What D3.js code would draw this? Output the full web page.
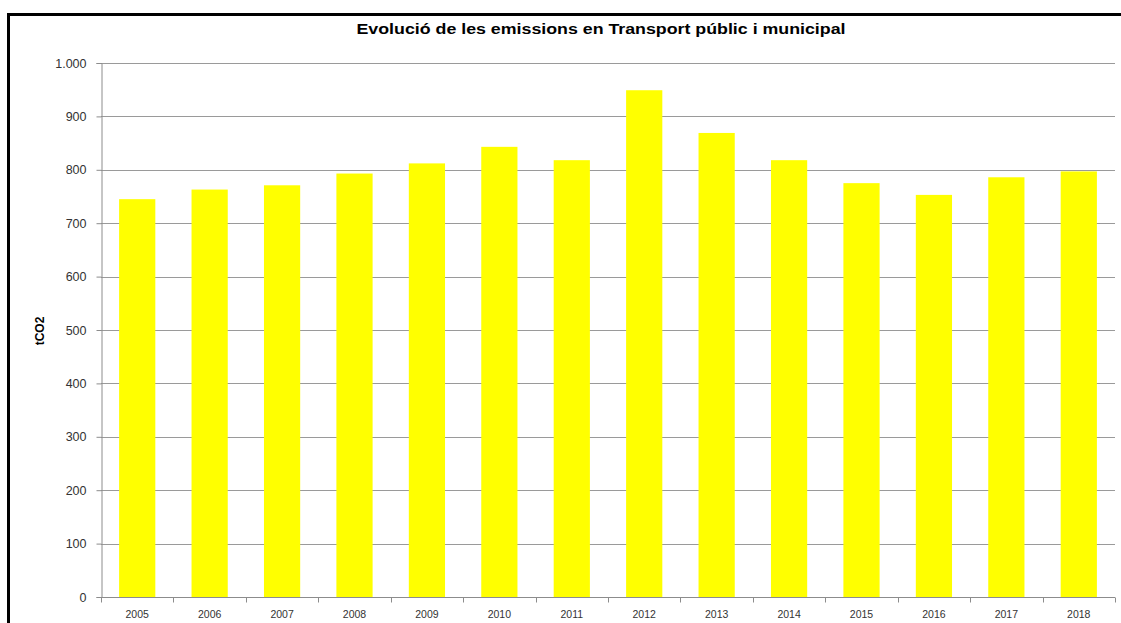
<!DOCTYPE html>
<html>
<head>
<meta charset="utf-8">
<script src="https://cdn.jsdelivr.net/npm/d3@7"></script>
<style>
  body { margin: 0; background: #fff; }
  svg { display: block; }
</style>
</head>
<body>
<svg id="chart" width="1121" height="623"></svg>
<script>
// data
var years = ["2005","2006","2007","2008","2009","2010","2011","2012","2013","2014","2015","2016","2017","2018"];
var emissions = [745, 763, 771, 793, 812, 843, 818, 949, 869, 818, 775, 753, 786, 797];
var yTicks = [0, 100, 200, 300, 400, 500, 600, 700, 800, 900, 1000];

var title = "Evolució de les emissions en Transport públic i municipal";
var yLabel = "tCO2";

const margin = { top: 63, right: 6, bottom: 26, left: 101 };
const W = 1121, H = 623;

const svg = d3.select("#chart");

// outer frame (only left + top are inside the picture)
svg.append("rect")
    .attr("x", 8.5).attr("y", 14.5)
    .attr("width", W + 20).attr("height", H + 20)
    .attr("fill", "none")
    .attr("stroke", "#000")
    .attr("stroke-width", 3);

const g = svg.append("g")
    .attr("transform", `translate(${margin.left},${margin.top})`);

const w = W - margin.left - margin.right;

var x = d3.scaleBand().domain(years).range([0, w]).paddingInner(0.5).paddingOuter(0.25);
var y = d3.scaleLinear().domain([0, 1000]).range([534, 0]);

// gridlines
g.append("g")
    .selectAll("line")
    .data(yTicks)
    .enter()
    .append("line")
    .attr("x1", 0).attr("x2", w)
    .attr("y1", d => Math.round(y(d)) + 0.5)
    .attr("y2", d => Math.round(y(d)) + 0.5)
    .attr("stroke", "#9a9a9a")
    .attr("stroke-width", 1);

// bars
g.selectAll("rect.bar")
    .data(emissions)
    .enter()
    .append("rect")
    .attr("class", "bar")
    .attr("x", (d, i) => x(years[i]))
    .attr("y", d => y(d))
    .attr("width", x.bandwidth())
    .attr("height", d => y(0) - y(d))
    .attr("fill", "#ffff00");

// y axis
var yAxis = g.append("g")
    .attr("transform", "translate(0.5,0)")
    .call(d3.axisLeft(y).tickValues(yTicks).tickSize(5).tickPadding(10)
        .tickFormat(d => d3.format(",")(d).replace(",", ".")));
yAxis.select(".domain").attr("stroke", "#8c8c8c");
yAxis.selectAll(".tick line").attr("stroke", "#8c8c8c");
yAxis.selectAll(".tick text")
    .attr("fill", "#333")
    .style("font-family", "'Liberation Sans', Arial, sans-serif")
    .style("font-size", "12.5px");

// x axis, ticks sit on the category boundaries
var step = w / years.length;
var xAxis = g.append("g")
    .attr("transform", `translate(0,${Math.round(y(0)) + 0.5})`);
xAxis.append("line")
    .attr("x1", 0).attr("x2", w)
    .attr("stroke", "#8c8c8c");
xAxis.selectAll("line.tk")
    .data(d3.range(years.length + 1))
    .enter()
    .append("line")
    .attr("class", "tk")
    .attr("x1", i => Math.round(i * step) + 0.5)
    .attr("x2", i => Math.round(i * step) + 0.5)
    .attr("y1", 0).attr("y2", 5)
    .attr("stroke", "#8c8c8c");
xAxis.selectAll("text")
    .data(years)
    .enter()
    .append("text")
    .attr("x", d => x(d) + x.bandwidth() / 2)
    .attr("y", 20)
    .attr("text-anchor", "middle")
    .attr("fill", "#333")
    .style("font-family", "'Liberation Sans', Arial, sans-serif")
    .style("font-size", "10.5px")
    .text(d => d);

// title (the original is stretched a bit wider)
svg.append("text")
    .attr("x", 601)
    .attr("y", 34)
    .attr("text-anchor", "middle")
    .attr("textLength", 489)
    .attr("lengthAdjust", "spacingAndGlyphs")
    .style("font-family", "'Liberation Sans', Arial, sans-serif")
    .style("font-weight", "bold")
    .style("font-size", "14px")
    .text(title);

// y label
svg.append("text")
    .attr("transform", "translate(44,331) rotate(-90)")
    .attr("text-anchor", "middle")
    .style("font-family", "'Liberation Sans', Arial, sans-serif")
    .style("font-weight", "bold")
    .style("font-size", "12px")
    .text(yLabel);
</script>
</body>
</html>
